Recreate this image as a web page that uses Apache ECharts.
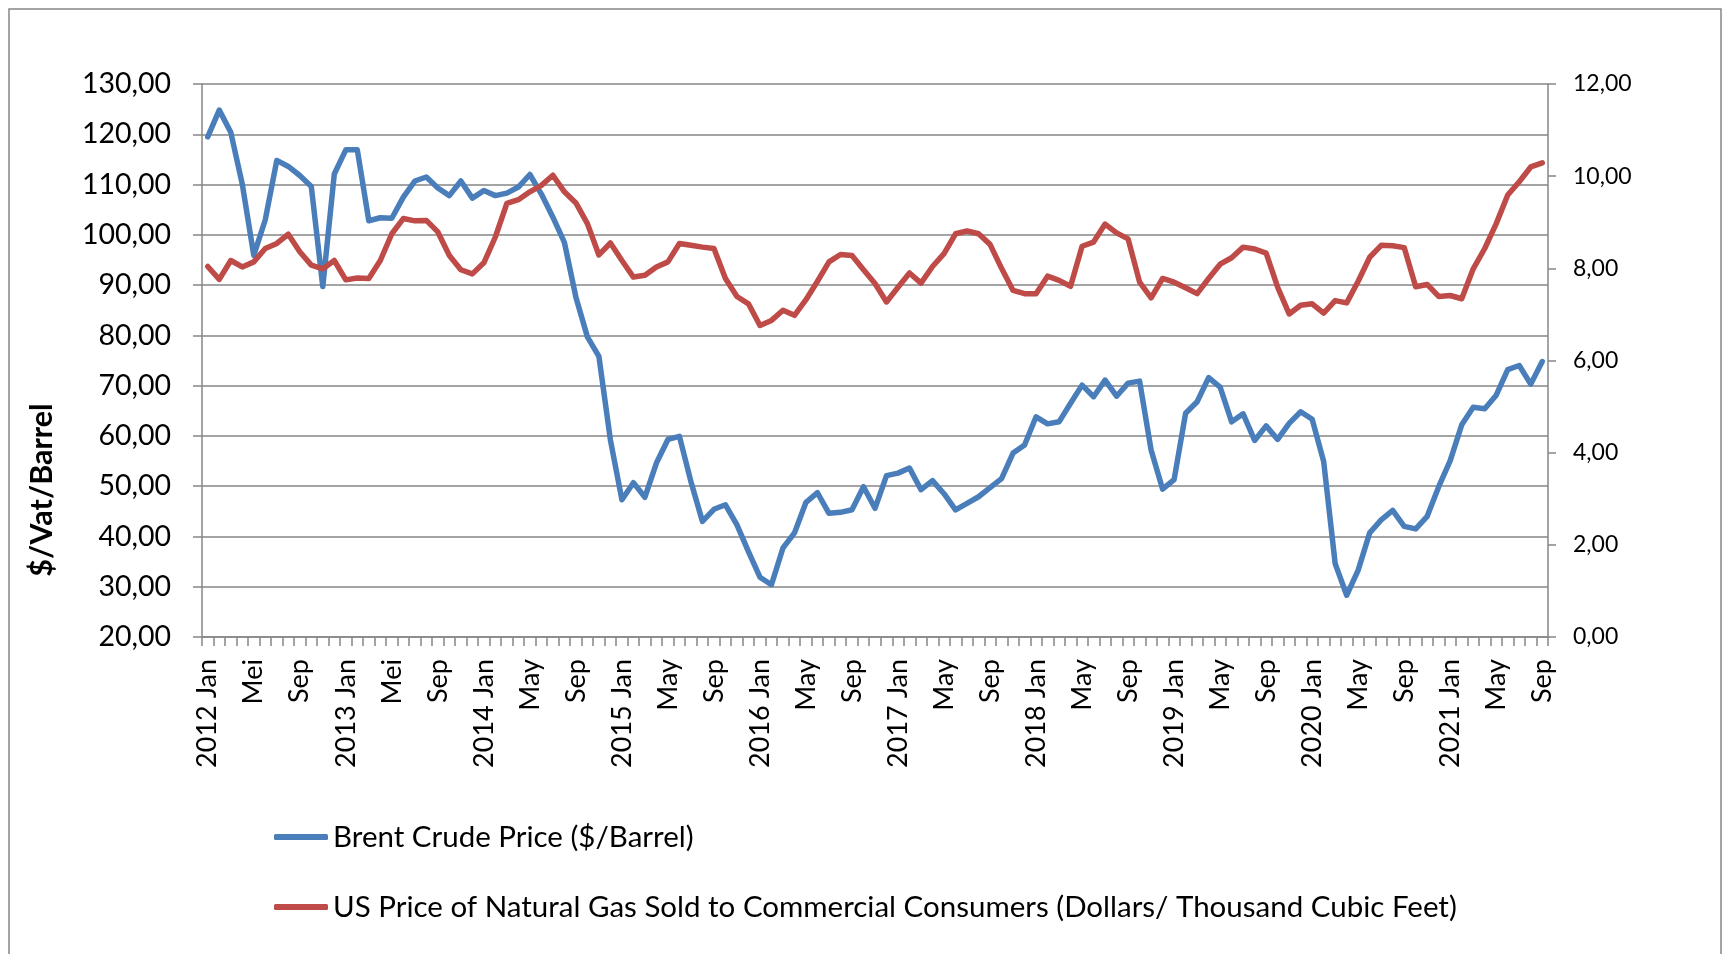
<!DOCTYPE html>
<html lang="en">
<head>
<meta charset="utf-8">
<title>Brent vs Natural Gas</title>
<script src="https://cdn.jsdelivr.net/npm/echarts@6/dist/echarts.min.js"></script>
<style>
  html, body { margin: 0; padding: 0; background: #fff; }
  #chart { width: 1723px; height: 954px; }
</style>
</head>
<body>
<div id="chart"></div>
<script>
// monthly, 2012 Jan .. 2021 Sep (117 months)
var years = [2012, 2013, 2014, 2015, 2016, 2017, 2018, 2019, 2020, 2021];
var months = ['Jan','Feb','Mar','Apr','May','Jun','Jul','Aug','Sep','Oct','Nov','Dec'];

// labels shown every 4th month
var tickLabels = ['2012 Jan','Mei','Sep','2013 Jan','Mei','Sep','2014 Jan','May','Sep',
  '2015 Jan','May','Sep','2016 Jan','May','Sep','2017 Jan','May','Sep','2018 Jan','May','Sep',
  '2019 Jan','May','Sep','2020 Jan','May','Sep','2021 Jan','May','Sep'];

// Brent Crude Price ($/Barrel)
var brent = [
  119.5, 124.8, 120.4, 110.1, 95.9, 103.0, 114.8, 113.6, 111.8, 109.6, 89.7, 112.1,
  116.9, 116.9, 102.8, 103.4, 103.3, 107.5, 110.7, 111.5, 109.3, 107.8, 110.7, 107.3,
  108.8, 107.8, 108.3, 109.5, 112.0, 108.1, 103.5, 98.5, 87.6, 79.7, 75.8, 59.2,
  47.3, 50.7, 47.8, 54.6, 59.3, 59.9, 50.9, 43.0, 45.4, 46.3, 42.3, 37.0,
  31.9, 30.4, 37.7, 40.7, 46.8, 48.7, 44.6, 44.8, 45.3, 49.9, 45.6, 52.1,
  52.6, 53.6, 49.3, 51.1, 48.5, 45.3, 46.6, 47.9, 49.7, 51.5, 56.6, 58.2,
  63.8, 62.4, 62.8, 66.5, 70.1, 67.8, 71.1, 67.9, 70.5, 70.9, 57.2, 49.4,
  51.3, 64.5, 66.8, 71.6, 69.7, 62.8, 64.4, 59.1, 62.0, 59.3, 62.5, 64.8,
  63.3, 54.9, 34.6, 28.3, 33.3, 40.7, 43.3, 45.2, 42.0, 41.5, 44.0, 49.9,
  55.1, 62.2, 65.7, 65.4, 68.1, 73.2, 74.0, 70.3, 74.8
];

// US Price of Natural Gas Sold to Commercial Consumers ($ / thousand cubic feet)
var gas = [
  8.04, 7.76, 8.17, 8.03, 8.14, 8.43, 8.54, 8.74, 8.36, 8.07, 7.99, 8.17,
  7.75, 7.79, 7.78, 8.17, 8.75, 9.08, 9.03, 9.04, 8.79, 8.28, 7.97, 7.88,
  8.12, 8.68, 9.41, 9.49, 9.66, 9.80, 10.02, 9.66, 9.42, 8.97, 8.29, 8.55,
  8.17, 7.81, 7.85, 8.03, 8.14, 8.54, 8.50, 8.46, 8.43, 7.78, 7.39, 7.23,
  6.76, 6.87, 7.09, 6.98, 7.32, 7.72, 8.14, 8.30, 8.28, 7.97, 7.67, 7.27,
  7.59, 7.90, 7.68, 8.04, 8.32, 8.75, 8.81, 8.75, 8.52, 8.00, 7.52, 7.45,
  7.45, 7.83, 7.74, 7.61, 8.48, 8.57, 8.96, 8.77, 8.64, 7.70, 7.36, 7.78,
  7.70, 7.58, 7.45, 7.78, 8.09, 8.23, 8.46, 8.42, 8.33, 7.59, 7.01, 7.20,
  7.23, 7.03, 7.30, 7.25, 7.72, 8.24, 8.50, 8.49, 8.45, 7.60, 7.65, 7.39,
  7.41, 7.34, 7.99, 8.43, 8.97, 9.59, 9.88, 10.20, 10.29
];

var categories = [];
years.forEach(function (y) {
  months.forEach(function (m) {
    if (categories.length < brent.length) categories.push(y + ' ' + m);
  });
});

var FONT = 'Lato';
var GREY = '#868686';

function comma(v) { return v.toFixed(2).replace('.', ','); }

var option = {
  animation: false,
  backgroundColor: '#fff',
  textStyle: { fontFamily: FONT, color: '#000' },
  grid: { left: 202, right: 175, top: 84, bottom: 317, containLabel: false },
  legend: {
    orient: 'vertical',
    left: 269,
    top: 816,
    itemWidth: 54,
    itemHeight: 6,
    itemGap: 38,
    icon: 'roundRect',
    textStyle: { fontFamily: FONT, fontSize: 29.5, color: '#000', lineHeight: 32 },
    data: ['Brent Crude Price ($/Barrel)',
      'US Price of Natural Gas Sold to Commercial Consumers (Dollars/ Thousand Cubic Feet)']
  },
  xAxis: {
    type: 'category',
    data: categories,
    boundaryGap: true,
    axisLine: { lineStyle: { color: GREY, width: 1.5 } },
    axisTick: { show: true, interval: 0, length: 9, lineStyle: { color: GREY, width: 1.5 } },
    axisLabel: {
      interval: 3,
      rotate: 90,
      margin: 22,
      fontFamily: FONT,
      fontSize: 27,
      color: '#000',
      formatter: function (v, i) { return tickLabels[i / 4] || ''; }
    },
    splitLine: { show: false }
  },
  yAxis: [
    {
      type: 'value',
      min: 20, max: 130, interval: 10,
      axisLine: { show: true, lineStyle: { color: GREY, width: 1.5 } },
      axisTick: { show: true, length: 9, lineStyle: { color: GREY, width: 1.5 } },
      axisLabel: { fontFamily: FONT, fontSize: 28.5, color: '#000', margin: 31, formatter: comma },
      splitLine: { show: true, lineStyle: { color: GREY, width: 1.5 } }
    },
    {
      type: 'value',
      min: 0, max: 12, interval: 2,
      position: 'right',
      axisLine: { show: true, lineStyle: { color: GREY, width: 1.5 } },
      axisTick: { show: true, length: 8, lineStyle: { color: GREY, width: 1.5 } },
      axisLabel: { fontFamily: FONT, fontSize: 23, color: '#000', margin: 25, formatter: comma },
      splitLine: { show: false }
    }
  ],
  series: [
    {
      name: 'Brent Crude Price ($/Barrel)',
      type: 'line',
      yAxisIndex: 0,
      data: brent,
      symbol: 'none',
      color: '#4A7EBB',
      lineStyle: { width: 5.5, color: '#4A7EBB', join: 'round', cap: 'round' }
    },
    {
      name: 'US Price of Natural Gas Sold to Commercial Consumers (Dollars/ Thousand Cubic Feet)',
      type: 'line',
      yAxisIndex: 1,
      data: gas,
      symbol: 'none',
      color: '#BE4B48',
      lineStyle: { width: 5.5, color: '#BE4B48', join: 'round', cap: 'round' }
    }
  ],
  graphic: [
    {
      type: 'rect',
      shape: { x: 9, y: 9, width: 1712, height: 980 },
      style: { fill: 'none', stroke: GREY, lineWidth: 1.5 },
      silent: true
    },
    {
      type: 'text',
      x: 42, y: 490,
      rotation: Math.PI / 2,
      style: {
        text: '$/Vat/Barrel',
        fontFamily: FONT, fontSize: 30.5, fontWeight: 'bold', fill: '#000',
        align: 'center', verticalAlign: 'middle'
      }
    }
  ]
};

var myChart = echarts.init(document.getElementById('chart'));
myChart.setOption(option);
</script>
</body>
</html>
